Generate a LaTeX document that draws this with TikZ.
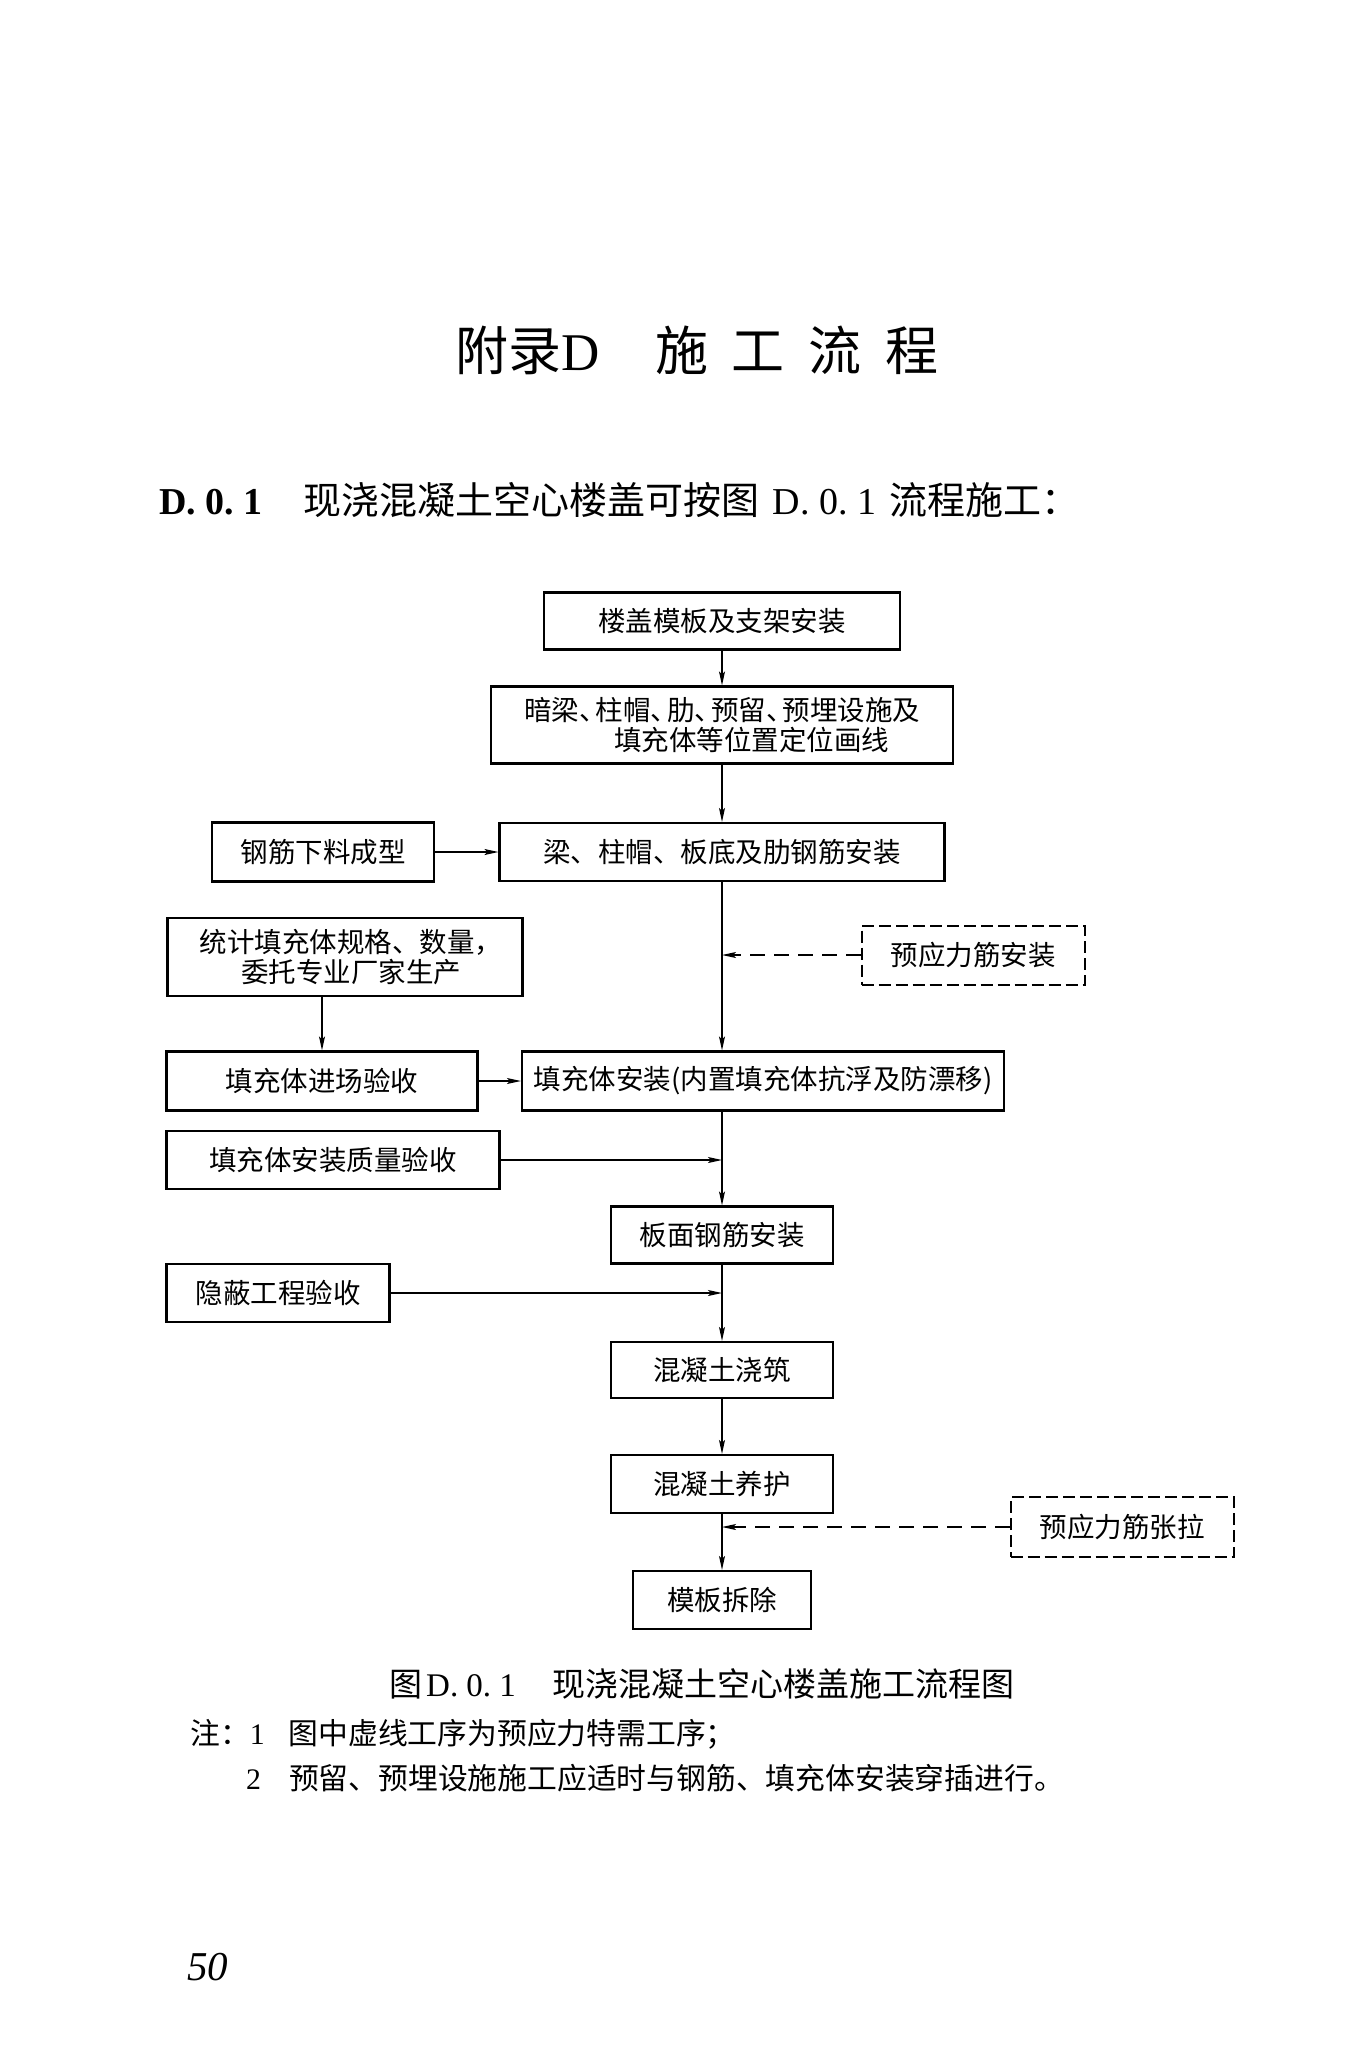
\documentclass[tikz,border=0pt]{standalone}
\usepackage{fontspec}
\setmainfont{Liberation Serif}
\newfontfamily\cjk{Noto Sans CJK SC}
\usetikzlibrary{arrows.meta}
\frenchspacing

\newcommand\ttlfont{\cjk\fontsize{53}{60}\selectfont}
\newcommand\hdfont{\cjk\fontsize{38}{44}\selectfont}
\newcommand\bxfont{\cjk\fontsize{27.5}{30.5}\selectfont}
\newcommand\cpfont{\cjk\fontsize{33}{38}\selectfont}
\newcommand\ntfont{\cjk\fontsize{29.8}{35}\selectfont}
\newcommand\pgnfont{\fontsize{41}{46}\selectfont}
\newcommand\dun{\makebox[0.6em][l]{、}}

\begin{document}
\begin{tikzpicture}[x=1pt,y=1pt,yscale=-1,xscale=1,
	box/.style={draw,line width=2.2pt,inner sep=0pt,align=center,font=\bxfont},
	dbox/.style={box,line width=2pt,dash pattern={on 12pt off 5pt}},
	arr/.style={line width=1.2pt,-{Stealth[length=14pt,width=6pt,inset=3pt]}},
	darr/.style={arr,dash pattern={on 15pt off 9pt}}]
	\useasboundingbox (0,0) rectangle (1354,2048);

	% Text Node
	\draw (455,350) node [anchor=west][inner sep=0pt][font=\ttlfont] (title) {附录{\rmfamily D}\hspace{1.05em}施\hspace{0.45em}工\hspace{0.45em}流\hspace{0.45em}程};
	% Text Node
	\draw (159,500) node [anchor=west][inner sep=0pt][font=\hdfont] (head) {{\rmfamily\bfseries D. 0. 1}\hspace{41pt}现浇混凝土空心楼盖可按图\hspace{0.35em}{\rmfamily D. 0. 1}\hspace{0.35em}流程施工：};

	%Shape: Rectangle
	\draw (722,621) node [box][minimum width=356pt,minimum height=57pt] (n1) {楼盖模板及支架安装};
	%Shape: Rectangle
	\draw (722,725) node [box][minimum width=462pt,minimum height=77pt,align=left] (n2) {暗梁\dun 柱帽\dun 肋\dun 预留\dun 预埋设施及\\[-1pt]\hspace*{90pt}填充体等位置定位画线};
	%Shape: Rectangle
	\draw (323,852) node [box][minimum width=222pt,minimum height=59pt] (n3) {钢筋下料成型};
	%Shape: Rectangle
	\draw (722,852) node [box][minimum width=445pt,minimum height=58pt] (n4) {梁、柱帽、板底及肋钢筋安装};
	%Shape: Rectangle
	\draw (345,957) node [box][minimum width=355pt,minimum height=78pt] (n5) {\hspace*{12pt}统计填充体规格、数量，\\\hspace*{12pt}委托专业厂家生产};
	%Shape: Rectangle
	\draw (973,955) node [dbox][minimum width=223pt,minimum height=59pt] (n6) {预应力筋安装};
	%Shape: Rectangle
	\draw (322,1081) node [box][minimum width=311pt,minimum height=59pt] (n7) {填充体进场验收};
	%Shape: Rectangle
	\draw (763,1081) node [box][minimum width=482pt,minimum height=59pt] (n8) {填充体安装(内置填充体抗浮及防漂移)};
	%Shape: Rectangle
	\draw (333,1160) node [box][minimum width=333pt,minimum height=58pt] (n9) {填充体安装质量验收};
	%Shape: Rectangle
	\draw (722,1235) node [box][minimum width=222pt,minimum height=57pt] (n10) {板面钢筋安装};
	%Shape: Rectangle
	\draw (278,1293) node [box][minimum width=223pt,minimum height=58pt] (n11) {隐蔽工程验收};
	%Shape: Rectangle
	\draw (722,1370) node [box][minimum width=222pt,minimum height=56pt] (n12) {混凝土浇筑};
	%Shape: Rectangle
	\draw (722,1484) node [box][minimum width=222pt,minimum height=58pt] (n13) {混凝土养护};
	%Shape: Rectangle
	\draw (1122,1527) node [dbox][minimum width=223pt,minimum height=60pt] (n14) {预应力筋张拉};
	%Shape: Rectangle
	\draw (722,1600) node [box][minimum width=178pt,minimum height=58pt] (n15) {模板拆除};

	%Straight Lines
	\draw [arr] (n1) -- (n2);
	\draw [arr] (n2) -- (n4);
	\draw [arr] (n3) -- (n4);
	\draw [arr] (n4) -- (n4 |- n8.north);
	\draw [darr] (n6) -- (n6 -| n4);
	\draw [arr] (n5.south -| n7) -- (n7);
	\draw [arr] (n7) -- (n8);
	\draw [arr] (n8.south -| n10) -- (n10);
	\draw [arr] (n9) -- (n9 -| n10);
	\draw [arr] (n10) -- (n12);
	\draw [arr] (n11) -- (n11 -| n12);
	\draw [arr] (n12) -- (n13);
	\draw [darr] (n14) -- (n14 -| n13);
	\draw [arr] (n13) -- (n15);

	% Text Node
	\draw (389,1684) node [anchor=west][inner sep=0pt][font=\cpfont] (caption) {图\hspace{4pt}{\rmfamily D. 0. 1}\hspace{36pt}现浇混凝土空心楼盖施工流程图};
	% Text Node
	\draw (190,1734) node [anchor=west][inner sep=0pt][font=\ntfont] (note1) {注：{\rmfamily 1}\hspace{24pt}图中虚线工序为预应力特需工序；};
	% Text Node
	\draw (246,1778) node [anchor=west][inner sep=0pt][font=\ntfont] (note2) {{\rmfamily 2}\hspace{28pt}预留、预埋设施施工应适时与钢筋、填充体安装穿插进行。};
	% Text Node
	\draw (187,1967) node [anchor=west][inner sep=0pt][font=\pgnfont] (page) {\itshape 50};

\end{tikzpicture}
\end{document}
